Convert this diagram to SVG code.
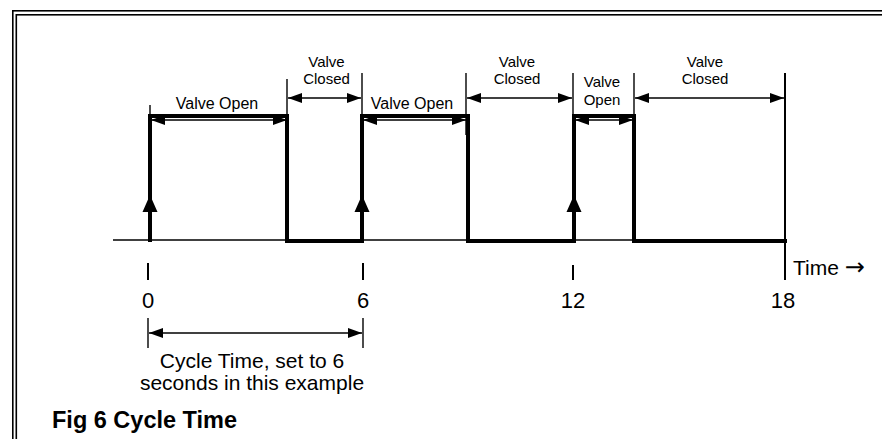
<svg xmlns="http://www.w3.org/2000/svg" width="882" height="439" viewBox="0 0 882 439">
<style>
  .frame{fill:none;stroke:#000;stroke-width:1.6}
  .thin{fill:none;stroke:#000;stroke-width:1.4}
  .wave{fill:none;stroke:#000;stroke-width:4;stroke-linejoin:miter;stroke-linecap:square}
  .dim{fill:none;stroke:#000;stroke-width:1.4;marker-start:url(#ah);marker-end:url(#ah)}
  .tick{fill:none;stroke:#000;stroke-width:2}
  .t15{font-family:"Liberation Sans",Arial,sans-serif;font-size:15px;fill:#000;text-anchor:middle}
  .t16{font-family:"Liberation Sans",Arial,sans-serif;font-size:16px;fill:#000;text-anchor:middle}
  .t21{font-family:"Liberation Sans",Arial,sans-serif;font-size:21px;fill:#000;text-anchor:middle}
  .num{font-family:"Liberation Sans",Arial,sans-serif;font-size:22px;fill:#000;text-anchor:middle}
  .title{font-family:"Liberation Sans",Arial,sans-serif;font-size:23.5px;font-weight:bold;fill:#000}
</style>
<defs>
  <marker id="ah" viewBox="0 0 14 10" refX="14" refY="5" markerWidth="14" markerHeight="10" markerUnits="userSpaceOnUse" orient="auto-start-reverse">
    <path d="M0,0 L14,5 L0,10 z" fill="#000"/>
  </marker>
</defs>
<rect width="882" height="439" fill="#fff"/>
<g id="frame">
  <rect class="frame" x="12.8" y="10.8" width="900" height="460"/>
  <rect class="frame" x="16.3" y="14.8" width="900" height="460"/>
</g>
<g id="connectors">
  <line class="thin" x1="150" y1="105" x2="150" y2="116"/>
  <line class="thin" x1="287" y1="79" x2="287" y2="116"/>
  <line class="thin" x1="362" y1="73" x2="362" y2="116"/>
  <line class="thin" x1="466" y1="73" x2="466" y2="135"/>
  <line class="thin" x1="573" y1="73" x2="573" y2="116"/>
  <line class="thin" x1="634" y1="73" x2="634" y2="116"/>
  <line x1="785" y1="73" x2="785" y2="280" stroke="#000" stroke-width="2"/>
  <line class="dim" x1="151" y1="120" x2="287" y2="120"/>
  <line class="dim" x1="288" y1="98" x2="361" y2="98"/>
  <line class="dim" x1="363" y1="120" x2="466" y2="120"/>
  <line class="dim" x1="467" y1="98" x2="572" y2="98"/>
  <line class="dim" x1="575" y1="120" x2="633" y2="120"/>
  <line class="dim" x1="635" y1="98" x2="784" y2="98"/>
  <line x1="113" y1="240" x2="785" y2="240" stroke="#000" stroke-width="1.6"/>
  <path class="wave" d="M150,240 V116 H287 V241 H362 V116 H468 V241 H574 V116 H634 V241 H785"/>
  <path d="M150,195 L157.5,212 L142.5,212 z M362,195 L369.5,212 L354.5,212 z M574,195 L581.5,212 L566.5,212 z" fill="#000"/>
  <line class="tick" x1="148" y1="263" x2="148" y2="280"/>
  <line class="tick" x1="363" y1="263" x2="363" y2="280"/>
  <line class="tick" x1="573" y1="265" x2="573" y2="280"/>
  <line class="thin" x1="148" y1="318" x2="148" y2="348"/>
  <line class="thin" x1="363" y1="318" x2="363" y2="348"/>
  <line class="dim" x1="149" y1="333" x2="362" y2="333"/>
</g>
<g id="labels">
  <text class="t16" x="217" y="109">Valve Open</text>
  <text class="t15" x="326.5" y="66.5">Valve</text>
  <text class="t15" x="326.5" y="83.5">Closed</text>
  <text class="t16" x="412" y="109">Valve Open</text>
  <text class="t15" x="517" y="66.5">Valve</text>
  <text class="t15" x="517" y="83.5">Closed</text>
  <text class="t15" x="602" y="87">Valve</text>
  <text class="t15" x="602" y="105">Open</text>
  <text class="t15" x="705" y="66.5">Valve</text>
  <text class="t15" x="705" y="83.5">Closed</text>
  <text class="num" x="148" y="308">0</text>
  <text class="num" x="363" y="308">6</text>
  <text class="num" x="573" y="308">12</text>
  <text class="num" x="783" y="308">18</text>
  <text class="t21" x="793" y="275" style="text-anchor:start">Time <tspan style="font-family:'DejaVu Sans',sans-serif;font-size:24px">→</tspan></text>
  <text class="t21" x="252" y="368">Cycle Time, set to 6</text>
  <text class="t21" x="252" y="390">seconds in this example</text>
  <text class="title" x="52" y="428">Fig 6 Cycle Time</text>
</g>
</svg>
